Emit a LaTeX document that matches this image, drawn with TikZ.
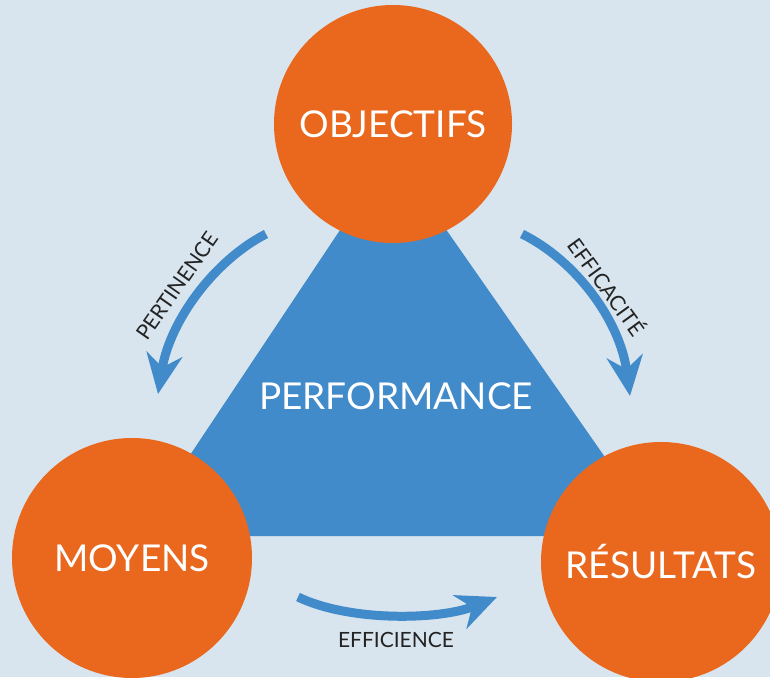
\documentclass[tikz,border=0pt]{standalone}
\usepackage{fontspec}
\setmainfont{Lato}
\usetikzlibrary{arrows.meta}
\definecolor{bgc}{RGB}{216,229,238}
\definecolor{orangec}{RGB}{233,104,30}
\definecolor{bluec}{RGB}{66,139,202}
\definecolor{textc}{RGB}{35,35,35}
\tikzset{
  bubble/.style={circle, fill=orangec, draw=none, minimum size=238pt, inner sep=0pt,
    text=white, font=\fontsize{37}{40}\selectfont},
  flow/.style={draw=bluec, line width=9pt,
    -{Stealth[length=40pt, width=36pt, inset=13pt, fill=bluec]}},
  flowlabel/.style={text=textc, font=\fontsize{21}{24}\selectfont, inner sep=0pt},
}
\begin{document}
\begin{tikzpicture}[x=1pt,y=-1pt]
\fill[bgc] (0,0) rectangle (770,677);
\useasboundingbox (0,0) rectangle (770,677);
% triangle
\coordinate (apex) at (392,152);
\coordinate (bl) at (136,536);
\coordinate (br) at (660,536);
\fill[bluec] (apex) -- (bl) -- (br) -- cycle;
\node[text=white, font=\fontsize{37}{40}\selectfont] (perf) at (396,396) {PERFORMANCE};
% circles
\node[bubble] (obj) at (393,124) {OBJECTIFS};
\node[bubble, minimum size=240pt] (moy) at (132,558) {MOYENS};
\node[bubble, minimum size=240pt] (res) at (661,562) {RÉSULTATS};
% arrow end points
\coordinate (p1) at (266,234);
\coordinate (p2) at (158,394);
\coordinate (e1) at (522,234);
\coordinate (e2) at (630,396);
\coordinate (f1) at (298,597);
\coordinate (f2) at (497,597);
\draw[flow] (p1) .. controls (215,260) and (170,320) .. (p2);
\draw[flow] (e1) .. controls (575,260) and (620,320) .. (e2);
\draw[flow] (f1) .. controls (350,622) and (440,620) .. (f2);
% labels
\node[flowlabel, rotate=55] (lp) at (177,286) {PERTINENCE};
\node[flowlabel, rotate=-54] (le) at (608,286) {EFFICACITÉ};
\node[flowlabel] (lf) at (396,640) {EFFICIENCE};
\end{tikzpicture}
\end{document}
